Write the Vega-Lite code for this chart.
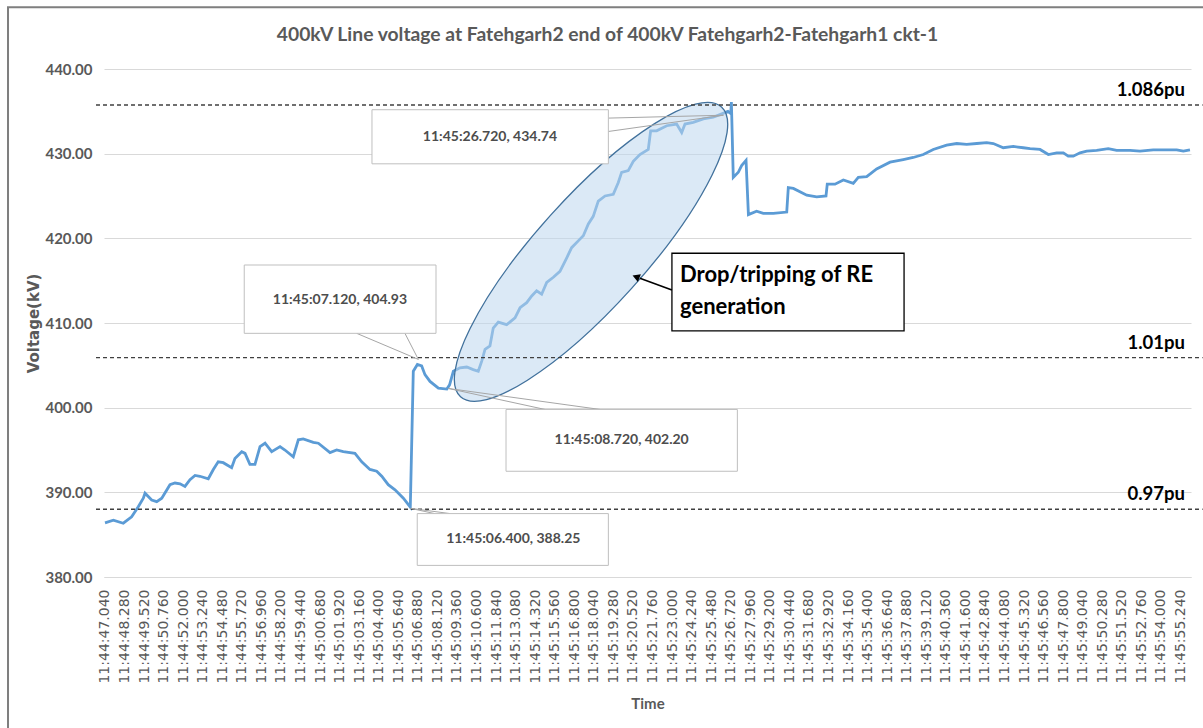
{
  "$schema": "https://vega.github.io/schema/vega-lite/v6.json",
  "width": 1087,
  "height": 508,
  "autosize": {"type": "none"},
  "padding": {"left": 104, "top": 69, "right": 12, "bottom": 151},
  "background": "white",
  "config": {
    "view": {"stroke": null},
    "axisX": {"labelOverlap": false, "labelFlush": false, "labelBound": false},
    "axisY": {"labelOverlap": false}
  },
  "title": {
    "text": "400kV Line voltage at Fatehgarh2 end of 400kV Fatehgarh2-Fatehgarh1 ckt-1",
    "font": "Lato", "fontSize": 19.3, "fontWeight": "bold", "color": "#595959",
    "anchor": "middle", "dx": -40, "offset": -39
  },
  "datasets": {
    "voltage": [
      {"t": 0.00, "kv": 386.4}, {"t": 0.53, "kv": 386.7}, {"t": 1.16, "kv": 386.35}, {"t": 1.69, "kv": 387.1},
      {"t": 2.11, "kv": 388.3}, {"t": 2.43, "kv": 389.3}, {"t": 2.54, "kv": 389.9}, {"t": 2.96, "kv": 389.1},
      {"t": 3.28, "kv": 388.9}, {"t": 3.60, "kv": 389.3}, {"t": 4.12, "kv": 390.9}, {"t": 4.44, "kv": 391.1},
      {"t": 4.76, "kv": 391.0}, {"t": 5.07, "kv": 390.7}, {"t": 5.39, "kv": 391.5}, {"t": 5.71, "kv": 392.0},
      {"t": 6.02, "kv": 391.9}, {"t": 6.55, "kv": 391.6}, {"t": 6.87, "kv": 392.7}, {"t": 7.18, "kv": 393.6},
      {"t": 7.50, "kv": 393.5}, {"t": 8.03, "kv": 392.9}, {"t": 8.24, "kv": 394.0}, {"t": 8.67, "kv": 394.8},
      {"t": 8.88, "kv": 394.6}, {"t": 9.19, "kv": 393.3}, {"t": 9.51, "kv": 393.3}, {"t": 9.83, "kv": 395.4},
      {"t": 10.15, "kv": 395.8}, {"t": 10.57, "kv": 394.8}, {"t": 11.10, "kv": 395.4}, {"t": 11.41, "kv": 395.0},
      {"t": 11.94, "kv": 394.2}, {"t": 12.26, "kv": 396.2}, {"t": 12.57, "kv": 396.3}, {"t": 13.21, "kv": 395.9},
      {"t": 13.53, "kv": 395.8}, {"t": 14.27, "kv": 394.7}, {"t": 14.69, "kv": 395.0}, {"t": 15.11, "kv": 394.8},
      {"t": 15.85, "kv": 394.6}, {"t": 16.28, "kv": 393.6}, {"t": 16.80, "kv": 392.7}, {"t": 17.23, "kv": 392.5},
      {"t": 17.55, "kv": 391.9}, {"t": 17.96, "kv": 390.9}, {"t": 18.39, "kv": 390.3}, {"t": 18.92, "kv": 389.3},
      {"t": 19.36, "kv": 388.25}, {"t": 19.55, "kv": 404.3}, {"t": 19.81, "kv": 405.1}, {"t": 20.08, "kv": 404.93},
      {"t": 20.29, "kv": 403.9}, {"t": 20.61, "kv": 403.1}, {"t": 21.14, "kv": 402.3}, {"t": 21.68, "kv": 402.2},
      {"t": 21.85, "kv": 402.7}, {"t": 22.09, "kv": 404.3}, {"t": 22.51, "kv": 404.7}, {"t": 22.94, "kv": 404.8},
      {"t": 23.35, "kv": 404.5}, {"t": 23.67, "kv": 404.3}, {"t": 23.89, "kv": 405.5}, {"t": 24.10, "kv": 406.9},
      {"t": 24.41, "kv": 407.3}, {"t": 24.62, "kv": 409.4}, {"t": 24.94, "kv": 410.1}, {"t": 25.47, "kv": 409.8},
      {"t": 26.00, "kv": 410.6}, {"t": 26.32, "kv": 411.8}, {"t": 26.74, "kv": 412.4}, {"t": 27.06, "kv": 413.2},
      {"t": 27.37, "kv": 413.8}, {"t": 27.69, "kv": 413.4}, {"t": 28.01, "kv": 414.8}, {"t": 28.43, "kv": 415.4},
      {"t": 28.85, "kv": 416.1}, {"t": 29.28, "kv": 417.7}, {"t": 29.59, "kv": 418.9}, {"t": 30.01, "kv": 419.7},
      {"t": 30.33, "kv": 420.3}, {"t": 30.65, "kv": 421.7}, {"t": 30.96, "kv": 422.6}, {"t": 31.28, "kv": 424.4},
      {"t": 31.71, "kv": 425.0}, {"t": 32.23, "kv": 425.2}, {"t": 32.55, "kv": 426.6}, {"t": 32.76, "kv": 427.8},
      {"t": 33.18, "kv": 428.0}, {"t": 33.50, "kv": 429.1}, {"t": 33.92, "kv": 429.9}, {"t": 34.45, "kv": 430.5},
      {"t": 34.60, "kv": 432.7}, {"t": 34.98, "kv": 432.7}, {"t": 35.62, "kv": 433.3}, {"t": 36.25, "kv": 433.5},
      {"t": 36.57, "kv": 432.5}, {"t": 36.78, "kv": 433.5}, {"t": 37.30, "kv": 433.7}, {"t": 37.94, "kv": 434.1},
      {"t": 38.57, "kv": 434.3}, {"t": 39.11, "kv": 434.7}, {"t": 39.50, "kv": 435.0}, {"t": 39.68, "kv": 434.74},
      {"t": 39.72, "kv": 436.1}, {"t": 39.84, "kv": 427.2}, {"t": 40.16, "kv": 427.8}, {"t": 40.37, "kv": 428.6},
      {"t": 40.65, "kv": 429.2}, {"t": 40.80, "kv": 422.8}, {"t": 41.32, "kv": 423.2}, {"t": 41.74, "kv": 422.95},
      {"t": 42.38, "kv": 422.95}, {"t": 43.23, "kv": 423.1}, {"t": 43.33, "kv": 426.0}, {"t": 43.65, "kv": 425.9},
      {"t": 44.50, "kv": 425.1}, {"t": 45.13, "kv": 424.9}, {"t": 45.72, "kv": 425.0}, {"t": 45.80, "kv": 426.4},
      {"t": 46.29, "kv": 426.4}, {"t": 46.82, "kv": 426.9}, {"t": 47.45, "kv": 426.5}, {"t": 47.77, "kv": 427.2},
      {"t": 48.30, "kv": 427.3}, {"t": 48.93, "kv": 428.2}, {"t": 49.78, "kv": 429.0}, {"t": 50.62, "kv": 429.3},
      {"t": 51.25, "kv": 429.55}, {"t": 51.89, "kv": 429.9}, {"t": 52.52, "kv": 430.5}, {"t": 53.37, "kv": 431.0},
      {"t": 54.01, "kv": 431.2}, {"t": 54.64, "kv": 431.1}, {"t": 55.28, "kv": 431.2}, {"t": 55.91, "kv": 431.3},
      {"t": 56.33, "kv": 431.2}, {"t": 56.96, "kv": 430.7}, {"t": 57.60, "kv": 430.85}, {"t": 58.23, "kv": 430.7},
      {"t": 58.66, "kv": 430.6}, {"t": 59.29, "kv": 430.5}, {"t": 59.82, "kv": 429.9}, {"t": 60.35, "kv": 430.1},
      {"t": 60.77, "kv": 430.1}, {"t": 61.08, "kv": 429.7}, {"t": 61.40, "kv": 429.7}, {"t": 61.83, "kv": 430.1},
      {"t": 62.25, "kv": 430.3}, {"t": 62.88, "kv": 430.4}, {"t": 63.62, "kv": 430.6}, {"t": 64.15, "kv": 430.4},
      {"t": 65.00, "kv": 430.4}, {"t": 65.63, "kv": 430.3}, {"t": 66.47, "kv": 430.45}, {"t": 67.32, "kv": 430.45},
      {"t": 67.96, "kv": 430.45}, {"t": 68.38, "kv": 430.3}, {"t": 68.80, "kv": 430.45}
    ],
    "refs": [
      {"pu": "1.086pu", "kv": 435.75},
      {"pu": "1.01pu", "kv": 405.9},
      {"pu": "0.97pu", "kv": 388.0}
    ]
  },
  "layer": [
    {
      "data": {"values": [{}]},
      "mark": {"type": "rect", "fill": null, "stroke": "#7f7f7f", "strokeWidth": 2, "clip": false},
      "encoding": {
        "x": {"datum": -6.15, "type": "quantitative"}, "x2": {"datum": 70.6},
        "y": {"datum": 447.3, "type": "quantitative"}, "y2": {"datum": 360.0}
      }
    },
    {
      "data": {"name": "voltage"},
      "mark": {"type": "line", "color": "#5b9bd5", "strokeWidth": 2.8},
      "encoding": {
        "x": {
          "field": "t", "type": "quantitative",
          "scale": {"domain": [-0.063, 68.865], "nice": false, "zero": false},
          "axis": {
            "values": [0, 1.24, 2.48, 3.72, 4.96, 6.2, 7.44, 8.68, 9.92, 11.16, 12.4, 13.64, 14.88, 16.12, 17.36, 18.6, 19.84, 21.08, 22.32, 23.56, 24.8, 26.04, 27.28, 28.52, 29.76, 31, 32.24, 33.48, 34.72, 35.96, 37.2, 38.44, 39.68, 40.92, 42.16, 43.4, 44.64, 45.88, 47.12, 48.36, 49.6, 50.84, 52.08, 53.32, 54.56, 55.8, 57.04, 58.28, 59.52, 60.76, 62, 63.24, 64.48, 65.72, 66.96, 68.2],
            "tickCount": 200,
            "labelExpr": "'11:' + format(floor((2687.04 + datum.value) / 60), '02d') + ':' + format((2687.04 + datum.value) % 60, '06.3f')",
            "labelAngle": 270, "labelFont": "DejaVu Sans", "labelFontSize": 14, "labelColor": "#595959",
            "labelPadding": 12, "labelOverlap": false, "labelFlush": false, "labelBound": false,
            "ticks": false, "grid": false, "domainColor": "#d9d9d9", "domainWidth": 1,
            "title": "Time", "titleFont": "Lato", "titleFontSize": 15, "titleFontWeight": "bold",
            "titleColor": "#595959", "titlePadding": 13
          }
        },
        "y": {
          "field": "kv", "type": "quantitative",
          "scale": {"domain": [380, 440], "nice": false, "zero": false},
          "axis": {
            "values": [380, 390, 400, 410, 420, 430, 440], "format": ".2f", "tickCount": 20,
            "labelFont": "Lato", "labelFontSize": 15, "labelFontWeight": "bold", "labelColor": "#595959",
            "labelPadding": 12, "ticks": false, "domain": false,
            "grid": true, "gridColor": "#d9d9d9", "gridWidth": 1,
            "title": "Voltage(kV)", "titleFont": "DejaVu Sans", "titleFontSize": 15, "titleFontWeight": "bold",
            "titleColor": "#595959", "titlePadding": 3
          }
        }
      }
    },
    {
      "data": {"values": [{}]},
      "mark": {
        "type": "point", "filled": true, "clip": false,
        "shape": "M1,0 C1,0.1546 0.5523,0.28 0,0.28 C-0.5523,0.28 -1,0.1546 -1,0 C-1,-0.1546 -0.5523,-0.28 0,-0.28 C0.5523,-0.28 1,-0.1546 1,0 Z",
        "size": 152100, "angle": 312, "fill": "#bdd7ee", "fillOpacity": 0.55, "opacity": 1,
        "stroke": "#41719c", "strokeWidth": 1.3
      },
      "encoding": {
        "x": {"datum": 30.82, "type": "quantitative"},
        "y": {"datum": 418.4, "type": "quantitative"}
      }
    },
    {
      "data": {"name": "refs"},
      "mark": {"type": "rule", "color": "#404040", "strokeWidth": 1.3, "strokeDash": [4, 3], "clip": false},
      "encoding": {
        "x": {"datum": -0.57, "type": "quantitative"}, "x2": {"datum": 69.6},
        "y": {"field": "kv", "type": "quantitative"}
      }
    },
    {
      "data": {"name": "refs"},
      "mark": {"type": "text", "align": "right", "baseline": "bottom", "dy": -5, "font": "Lato", "fontSize": 18.5, "fontWeight": "bold", "color": "#000000", "clip": false},
      "encoding": {
        "x": {"datum": 68.48, "type": "quantitative"},
        "y": {"field": "kv", "type": "quantitative"},
        "text": {"field": "pu"}
      }
    },
    {"data": {"values": [{}]}, "mark": {"type": "rule", "color": "#a6a6a6", "strokeWidth": 1},
     "encoding": {"x": {"datum": 31.92, "type": "quantitative"}, "y": {"datum": 434.2, "type": "quantitative"}, "x2": {"datum": 39.22}, "y2": {"datum": 434.54}}},
    {"data": {"values": [{}]}, "mark": {"type": "rule", "color": "#a6a6a6", "strokeWidth": 1},
     "encoding": {"x": {"datum": 31.92, "type": "quantitative"}, "y": {"datum": 432.62, "type": "quantitative"}, "x2": {"datum": 39.22}, "y2": {"datum": 434.54}}},
    {"data": {"values": [{}]}, "mark": {"type": "rule", "color": "#a6a6a6", "strokeWidth": 1},
     "encoding": {"x": {"datum": 15.96, "type": "quantitative"}, "y": {"datum": 408.78, "type": "quantitative"}, "x2": {"datum": 19.87}, "y2": {"datum": 405.7}}},
    {"data": {"values": [{}]}, "mark": {"type": "rule", "color": "#a6a6a6", "strokeWidth": 1},
     "encoding": {"x": {"datum": 19.02, "type": "quantitative"}, "y": {"datum": 408.78, "type": "quantitative"}, "x2": {"datum": 19.87}, "y2": {"datum": 405.7}}},
    {"data": {"values": [{}]}, "mark": {"type": "rule", "color": "#a6a6a6", "strokeWidth": 1},
     "encoding": {"x": {"datum": 27.90, "type": "quantitative"}, "y": {"datum": 399.79, "type": "quantitative"}, "x2": {"datum": 21.77}, "y2": {"datum": 402.27}}},
    {"data": {"values": [{}]}, "mark": {"type": "rule", "color": "#a6a6a6", "strokeWidth": 1},
     "encoding": {"x": {"datum": 31.39, "type": "quantitative"}, "y": {"datum": 399.79, "type": "quantitative"}, "x2": {"datum": 21.77}, "y2": {"datum": 402.27}}},
    {"data": {"values": [{}]}, "mark": {"type": "rule", "color": "#a6a6a6", "strokeWidth": 1},
     "encoding": {"x": {"datum": 20.9, "type": "quantitative"}, "y": {"datum": 387.49, "type": "quantitative"}, "x2": {"datum": 19.37}, "y2": {"datum": 388.11}}},
    {"data": {"values": [{}]}, "mark": {"type": "rule", "color": "#a6a6a6", "strokeWidth": 1},
     "encoding": {"x": {"datum": 21.88, "type": "quantitative"}, "y": {"datum": 387.49, "type": "quantitative"}, "x2": {"datum": 19.37}, "y2": {"datum": 388.11}}},
    {"data": {"values": [{}]}, "mark": {"type": "rect", "fill": "white", "stroke": "#bfbfbf", "strokeWidth": 1},
     "encoding": {"x": {"datum": 16.93, "type": "quantitative"}, "x2": {"datum": 31.92}, "y": {"datum": 435.19, "type": "quantitative"}, "y2": {"datum": 428.8}}},
    {"data": {"values": [{}]}, "mark": {"type": "rect", "fill": "white", "stroke": "#bfbfbf", "strokeWidth": 1},
     "encoding": {"x": {"datum": 8.83, "type": "quantitative"}, "x2": {"datum": 20.99}, "y": {"datum": 416.85, "type": "quantitative"}, "y2": {"datum": 408.78}}},
    {"data": {"values": [{}]}, "mark": {"type": "rect", "fill": "white", "stroke": "#bfbfbf", "strokeWidth": 1},
     "encoding": {"x": {"datum": 25.43, "type": "quantitative"}, "x2": {"datum": 40.10}, "y": {"datum": 399.79, "type": "quantitative"}, "y2": {"datum": 392.49}}},
    {"data": {"values": [{}]}, "mark": {"type": "rect", "fill": "white", "stroke": "#bfbfbf", "strokeWidth": 1},
     "encoding": {"x": {"datum": 19.80, "type": "quantitative"}, "x2": {"datum": 31.92}, "y": {"datum": 387.49, "type": "quantitative"}, "y2": {"datum": 381.37}}},
    {"data": {"values": [{"note": "11:45:26.720, 434.74"}]}, "mark": {"type": "text", "font": "Lato", "fontSize": 14, "fontWeight": "bold", "color": "#4d4d4d", "align": "center", "baseline": "middle"},
     "encoding": {"x": {"datum": 24.41, "type": "quantitative"}, "y": {"datum": 432.0, "type": "quantitative"}, "text": {"field": "note"}}},
    {"data": {"values": [{"note": "11:45:07.120, 404.93"}]}, "mark": {"type": "text", "font": "Lato", "fontSize": 14, "fontWeight": "bold", "color": "#4d4d4d", "align": "center", "baseline": "middle"},
     "encoding": {"x": {"datum": 14.90, "type": "quantitative"}, "y": {"datum": 412.72, "type": "quantitative"}, "text": {"field": "note"}}},
    {"data": {"values": [{"note": "11:45:08.720, 402.20"}]}, "mark": {"type": "text", "font": "Lato", "fontSize": 14, "fontWeight": "bold", "color": "#4d4d4d", "align": "center", "baseline": "middle"},
     "encoding": {"x": {"datum": 32.76, "type": "quantitative"}, "y": {"datum": 396.16, "type": "quantitative"}, "text": {"field": "note"}}},
    {"data": {"values": [{"note": "11:45:06.400, 388.25"}]}, "mark": {"type": "text", "font": "Lato", "fontSize": 14, "fontWeight": "bold", "color": "#4d4d4d", "align": "center", "baseline": "middle"},
     "encoding": {"x": {"datum": 25.89, "type": "quantitative"}, "y": {"datum": 384.53, "type": "quantitative"}, "text": {"field": "note"}}},
    {"data": {"values": [{}]}, "mark": {"type": "rect", "fill": "white", "stroke": "#000000", "strokeWidth": 1.3},
     "encoding": {"x": {"datum": 35.95, "type": "quantitative"}, "x2": {"datum": 50.67}, "y": {"datum": 418.24, "type": "quantitative"}, "y2": {"datum": 409.08}}},
    {"data": {"values": [{"note": ["Drop/tripping of RE", "generation"]}]},
     "mark": {"type": "text", "font": "Lato", "fontSize": 22, "fontWeight": "bold", "color": "#000000", "align": "left", "baseline": "middle", "lineHeight": 32},
     "encoding": {"x": {"datum": 36.46, "type": "quantitative"}, "y": {"datum": 415.67, "type": "quantitative"}, "text": {"field": "note"}}},
    {"data": {"values": [{}]}, "mark": {"type": "rule", "color": "#000000", "strokeWidth": 1.6},
     "encoding": {"x": {"datum": 35.95, "type": "quantitative"}, "y": {"datum": 413.9, "type": "quantitative"}, "x2": {"datum": 33.92}, "y2": {"datum": 415.3}}},
    {"data": {"values": [{}]}, "mark": {"type": "point", "shape": "triangle-right", "filled": true, "color": "#000000", "size": 70, "angle": 201, "opacity": 1},
     "encoding": {"x": {"datum": 33.67, "type": "quantitative"}, "y": {"datum": 415.46, "type": "quantitative"}}}
  ]
}
